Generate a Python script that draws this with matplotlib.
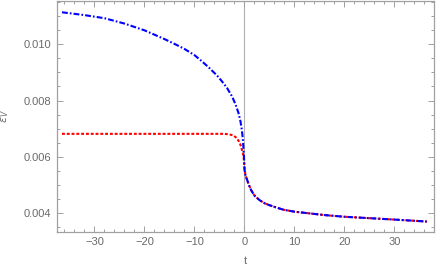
import matplotlib
matplotlib.use("Agg")
import matplotlib.pyplot as plt
from matplotlib.ticker import MultipleLocator

# blue curve (dash-dot)
t_blue = [-36.5, -32, -28, -24, -20, -16, -14, -12, -10, -8.5, -7, -5.5, -4.5,
          -3.5, -2.5, -1.8, -1.2, -0.8, -0.53, -0.35, -0.2, -0.1, 0.0, 0.2,
          0.54, 0.9, 1.34, 2.0, 3.0, 4.0, 5.0, 6.5, 7.8, 10, 13, 16, 20,
          25, 30, 36.5]
v_blue = [0.01113, 0.01103, 0.01092, 0.01073, 0.01049, 0.01018, 0.01001,
          0.00983, 0.00961, 0.00939, 0.00915, 0.00889, 0.00868, 0.00845,
          0.00815, 0.00787, 0.00756, 0.00726, 0.00696, 0.00668, 0.00630,
          0.00600, 0.00555, 0.00535, 0.00518, 0.00500, 0.00482, 0.00463,
          0.00447, 0.00436, 0.00429, 0.00420, 0.00413, 0.00406, 0.00400,
          0.00394, 0.00388, 0.00383, 0.00378, 0.00371]

# red curve (dotted)
t_red = [-36.5, -20, -8, -4.0, -3.5, -2.8, -2.2, -1.7, -1.2, -0.8, -0.53,
         -0.3, -0.15, 0.0, 0.2, 0.54, 0.9, 1.34, 2.0, 3.0, 4.0, 5.0, 6.5,
         7.8, 10, 13, 16, 20, 25, 30, 36.5]
v_red = [0.00682, 0.00682, 0.00682, 0.00682, 0.00681, 0.00679, 0.00676,
         0.00669, 0.00658, 0.00643, 0.00626, 0.00612, 0.00596, 0.00560,
         0.00535, 0.00518, 0.00500, 0.00482, 0.00463, 0.00447, 0.00436,
         0.00429, 0.00420, 0.00413, 0.00406, 0.00400, 0.00394, 0.00388,
         0.00383, 0.00378, 0.00371]

x_ticks = [-30, -20, -10, 0, 10, 20, 30]
y_ticks = [0.004, 0.006, 0.008, 0.010]
y_ticklabels = ["0.004", "0.006", "0.008", "0.010"]

plt.rcParams['font.family'] = ['Liberation Sans', 'DejaVu Sans']
plt.rcParams['mathtext.fontset'] = 'dejavusans'

fig = plt.figure(figsize=(4.36, 2.77), dpi=100)
ax = fig.add_axes([0.1307, 0.1635, 0.8647, 0.8345])

ax.axvline(0, color='#b0b0b0', lw=0.8, zorder=1)

ax.plot(t_red, v_red, color=(1, 0, 0), lw=1.5, dashes=(1.4, 0.9), zorder=2)
ax.plot(t_blue, v_blue, color=(0, 0, 1), lw=1.5,
        dashes=(2.8, 1.0, 0.8, 1.0), zorder=3)

ax.set_xlim(-37.5, 37.9)
ax.set_ylim(0.00335, 0.011546)

ax.set_xticks(x_ticks)
ax.set_xticklabels([f"\u2212{abs(v)}" if v < 0 else str(v) for v in x_ticks])
ax.set_yticks(y_ticks)
ax.set_yticklabels(y_ticklabels)
ax.xaxis.set_minor_locator(MultipleLocator(2))
ax.yaxis.set_minor_locator(MultipleLocator(0.0005))

frame_col = '#a0a0a0'
text_col = '#6a6a6a'
for s in ax.spines.values():
    s.set_color(frame_col)
    s.set_linewidth(0.9)

ax.tick_params(which='both', direction='in', top=True, right=True,
               color=frame_col, labelcolor=text_col, labelsize=8, width=0.7)
ax.tick_params(which='major', length=4, pad=4)
ax.tick_params(which='minor', length=2)

ax.set_xlabel('t', color=text_col, fontsize=8, labelpad=6)
ax.set_ylabel(r'$\varepsilon_V$', color=text_col, fontsize=8, labelpad=9)

fig.savefig('out.png', dpi=100)
